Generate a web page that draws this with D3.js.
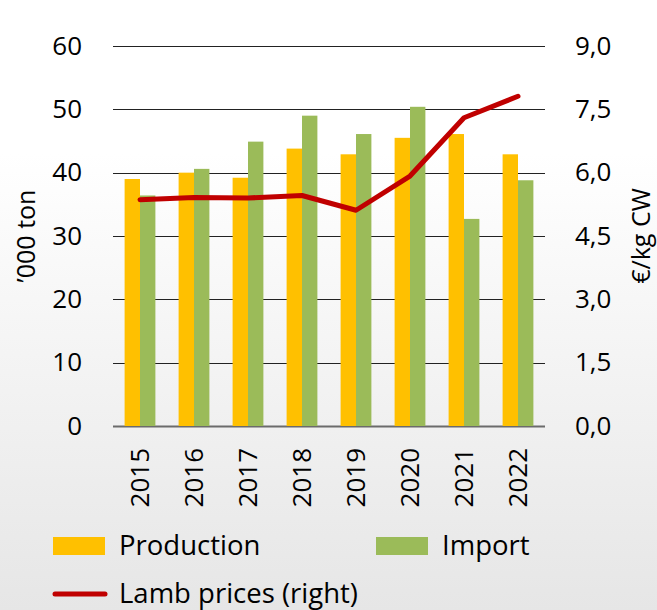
<!DOCTYPE html>
<html>
<head>
<meta charset="utf-8">
<script src="https://cdn.jsdelivr.net/npm/d3@7"></script>
<style>
  html, body { margin: 0; padding: 0; }
  body { width: 657px; height: 610px; overflow: hidden; }
  text { font-family: "Open Sans", sans-serif; fill: #000; }
</style>
</head>
<body>
<div id="chart"></div>
<script>
// values
const years = ['2015', '2016', '2017', '2018', '2019', '2020', '2021', '2022'];
const production = [39.0, 40.0, 39.2, 43.8, 42.9, 45.5, 46.1, 42.9];
const imports = [36.4, 40.6, 44.9, 49.0, 46.1, 50.4, 32.7, 38.8];
const lambPrice = [5.36, 5.41, 5.40, 5.46, 5.11, 5.92, 7.30, 7.81];
const leftTicks = [0, 10, 20, 30, 40, 50, 60];
const rightTicks = [0, 1.5, 3, 4.5, 6, 7.5, 9];

const width = 657, height = 610;
const margin = {top: 46, right: 112, bottom: 184, left: 113};

const svg = d3.select('#chart').append('svg')
    .attr('width', width)
    .attr('height', height);

// light grey fade towards the bottom, like the slide background
const grad = svg.append('defs').append('linearGradient')
    .attr('id', 'bg')
    .attr('x1', 0).attr('y1', 0).attr('x2', 0).attr('y2', 1);
grad.append('stop').attr('offset', '0%').attr('stop-color', '#ffffff');
grad.append('stop').attr('offset', '25%').attr('stop-color', '#ffffff');
grad.append('stop').attr('offset', '100%').attr('stop-color', '#e6e6e6');

svg.append('rect')
    .attr('width', width)
    .attr('height', height)
    .attr('fill', 'url(#bg)');

const x = d3.scaleBand()
    .domain(years)
    .range([margin.left, width - margin.right]);

const xSub = d3.scaleBand()
    .domain(['production', 'import'])
    .range([0, x.bandwidth() * 0.57])

const yLeft = d3.scaleLinear().domain([0, 60]).range([height - margin.bottom, margin.top]);
const yRight = d3.scaleLinear().domain([0, 9]).range([height - margin.bottom, margin.top]);

// gridlines
svg.append('g')
    .selectAll('line')
    .data(leftTicks)
    .enter().append('line')
    .attr('x1', margin.left)
    .attr('x2', width - margin.right)
    .attr('y1', d => Math.round(yLeft(d)) + 0.5)
    .attr('y2', d => Math.round(yLeft(d)) + 0.5)
    .style('stroke', d => d === 0 ? '#6b6b6b' : '#222')
    .style('stroke-width', d => d === 0 ? 2 : 1);

// bars
const groupOffset = (x.bandwidth() - xSub.range()[1]) / 2;
const bars = svg.append('g');
years.forEach((yr, i) => {
    const g = bars.append('g').attr('transform', `translate(${x(yr) + groupOffset},0)`);
    g.append('rect')
        .attr('x', xSub('production'))
        .attr('width', xSub.bandwidth())
        .attr('y', yLeft(production[i]))
        .attr('height', yLeft(0) - yLeft(production[i]))
        .style('fill', '#ffc000');
    g.append('rect')
        .attr('x', xSub('import'))
        .attr('width', xSub.bandwidth())
        .attr('y', yLeft(imports[i]))
        .attr('height', yLeft(0) - yLeft(imports[i]))
        .style('fill', '#9bbb59');
});

// price line on the right axis
const line = d3.line()
    .x((d, i) => x(years[i]) + x.bandwidth() / 2)
    .y(d => yRight(d));

svg.append('path')
    .datum(lambPrice)
    .attr('d', line)
    .style('fill', 'none')
    .style('stroke', '#c00000')
    .style('stroke-width', 5)
    .style('stroke-linecap', 'round')
    .style('stroke-linejoin', 'round');

// axes
const leftAxis = svg.append('g')
    .attr('transform', `translate(${margin.left - 31},0)`)
    .call(d3.axisLeft(yLeft).tickValues(leftTicks).tickSize(0).tickPadding(0));
const rightAxis = svg.append('g')
    .attr('transform', `translate(${width - margin.right + 30},0)`)
    .call(d3.axisRight(yRight).tickValues(rightTicks).tickSize(0).tickPadding(0)
        .tickFormat(d => d3.format('.1f')(d).replace('.', ',')));
[leftAxis, rightAxis].forEach(a => {
    a.select('.domain').remove();
    a.selectAll('text').style('font-size', '26px').attr('font-family', null).attr('fill', '#000');
});

const xAxis = svg.append('g')
    .attr('transform', `translate(0,${height - margin.bottom})`)
    .call(d3.axisBottom(x).tickSize(0).tickPadding(0));
xAxis.select('.domain').remove();
xAxis.selectAll('text')
    .attr('fill', '#000')
    .attr('font-family', null)
    .style('font-size', '26px')
    .attr('transform', 'rotate(-90)')
    .attr('x', -22)
    .attr('y', 0)
    .attr('dy', '0.35em')
    .style('text-anchor', 'end');

// axis titles
const midY = (yLeft(0) + yLeft(60)) / 2;
svg.append('text')
    .attr('transform', `translate(35,${midY}) rotate(-90)`)
    .attr('text-anchor', 'middle')
    .style('font-size', '25px')
    .text('\u2019000 ton');
svg.append('text')
    .attr('transform', `translate(650,${midY}) rotate(-90)`)
    .attr('text-anchor', 'middle')
    .style('font-size', '25px')
    .text('\u20ac/kg CW');

// legend
const legend = svg.append('g');
const legendItems = [
    {label: 'Production', color: '#ffc000', type: 'rect', lx: 53, ly: 546},
    {label: 'Import', color: '#9bbb59', type: 'rect', lx: 376, ly: 546},
    {label: 'Lamb prices (right)', color: '#c00000', type: 'line', lx: 53, ly: 594}
];
legendItems.forEach(d => {
    if (d.type === 'rect') {
        legend.append('rect')
            .attr('x', d.lx).attr('y', d.ly - 9)
            .attr('width', 52).attr('height', 18)
            .style('fill', d.color);
    } else {
        legend.append('line')
            .attr('x1', d.lx + 2).attr('x2', d.lx + 52)
            .attr('y1', d.ly).attr('y2', d.ly)
            .style('stroke', d.color)
            .style('stroke-width', 5)
            .style('stroke-linecap', 'round');
    }
    legend.append('text')
        .attr('x', d.lx + 66)
        .attr('y', d.ly + 9)
        .style('font-size', '27.5px')
        .text(d.label);
});
</script>
</body>
</html>
